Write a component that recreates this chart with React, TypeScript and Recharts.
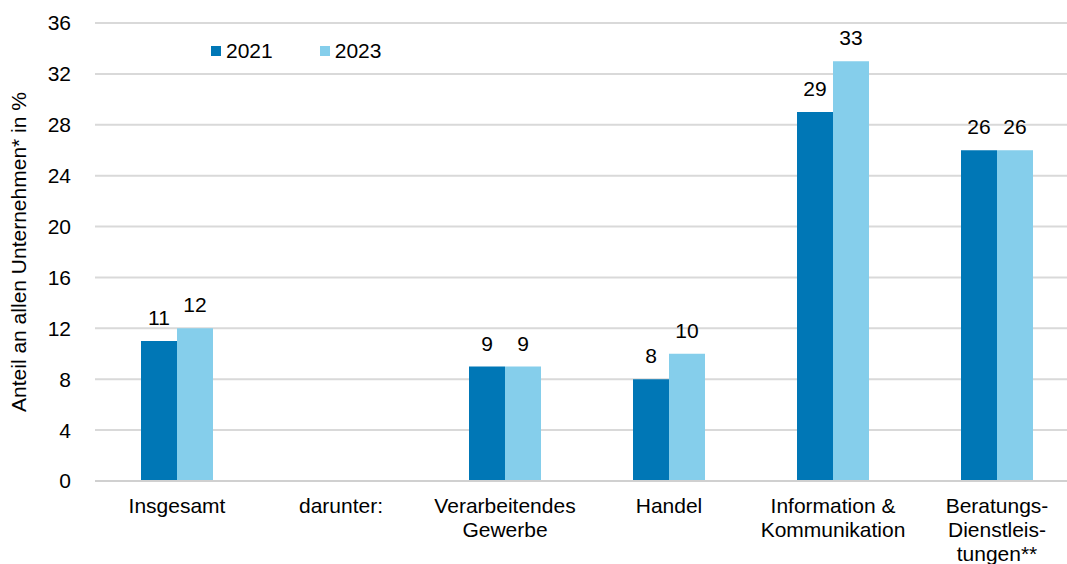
import { BarChart, Bar, XAxis, YAxis, CartesianGrid, LabelList } from "recharts";

const categories = [
  "Insgesamt",
  "darunter:",
  "Verarbeitendes\nGewerbe",
  "Handel",
  "Information &\nKommunikation",
  "Beratungs-\nDienstleis-\ntungen**",
];
const values2021 = [11, null, 9, 8, 29, 26];
const values2023 = [12, null, 9, 10, 33, 26];
const yTicks = [0, 4, 8, 12, 16, 20, 24, 28, 32, 36];
const seriesNames = ["2021", "2023"];
const seriesColors = ["#0077b6", "#85ceeb"];

const data = categories.map((c, i) => ({
  name: c,
  y2021: values2021[i],
  y2023: values2023[i],
}));

const FONT = "'Liberation Sans', Arial, sans-serif";
const FS = 21;

function CategoryTick(props: any) {
  const { x, y, payload } = props;
  const lines = String(payload.value).split("\n");
  return (
    <g transform={`translate(${x},${y})`}>
      {lines.map((l: string, i: number) => (
        <text
          key={i}
          x={0}
          y={24 + i * 24}
          textAnchor="middle"
          fill="#000"
          fontSize={FS}
          fontFamily={FONT}
        >
          {l}
        </text>
      ))}
    </g>
  );
}

function App() {
  return (
    <div
      style={{
        position: "absolute",
        left: 0,
        top: 0,
        width: 1067,
        height: 564,
        overflow: "hidden",
        background: "#fff",
      }}
    >
      <BarChart
        width={1079}
        height={564}
        data={data}
        margin={{ top: 23, right: 0, bottom: 0, left: 0 }}
        barGap={0}
        barSize={36}
      >
        <CartesianGrid vertical={false} stroke="#d9d9d9" strokeWidth={2} />
        <XAxis
          dataKey="name"
          height={83}
          interval={0}
          tick={<CategoryTick />}
          tickLine={false}
          axisLine={{ stroke: "#d0d0d0", strokeWidth: 2 }}
        />
        <YAxis
          width={95}
          domain={[0, 36]}
          ticks={yTicks}
          interval={0}
          axisLine={false}
          tickLine={false}
          tickMargin={18}
          tick={{ fill: "#000", fontSize: FS, fontFamily: FONT }}
          label={{
            value: "Anteil an allen Unternehmen* in %",
            angle: -90,
            position: "insideLeft",
            dx: 14,
            dy: 0,
            style: { textAnchor: "middle", fill: "#000", fontSize: FS, fontFamily: FONT },
          }}
        />
        <Bar dataKey="y2021" name="2021" fill={seriesColors[0]} isAnimationActive={false}>
          <LabelList
            dataKey="y2021"
            position="top"
            offset={16}
            fill="#000"
            fontSize={FS}
            fontFamily={FONT}
          />
        </Bar>
        <Bar dataKey="y2023" name="2023" fill={seriesColors[1]} isAnimationActive={false}>
          <LabelList
            dataKey="y2023"
            position="top"
            offset={16}
            fill="#000"
            fontSize={FS}
            fontFamily={FONT}
          />
        </Bar>
      </BarChart>
      <div
        style={{
          position: "absolute",
          left: 211,
          top: 38,
          display: "flex",
          fontFamily: FONT,
          fontSize: FS,
          lineHeight: "26px",
          color: "#000",
        }}
      >
        {seriesNames.map((n, i) => (
          <div key={n} style={{ display: "flex", alignItems: "center", marginRight: 47 }}>
            <span
              style={{
                display: "inline-block",
                width: 10,
                height: 10,
                background: seriesColors[i],
                marginRight: 5,
              }}
            />
            {n}
          </div>
        ))}
      </div>
    </div>
  );
}

export default App;
